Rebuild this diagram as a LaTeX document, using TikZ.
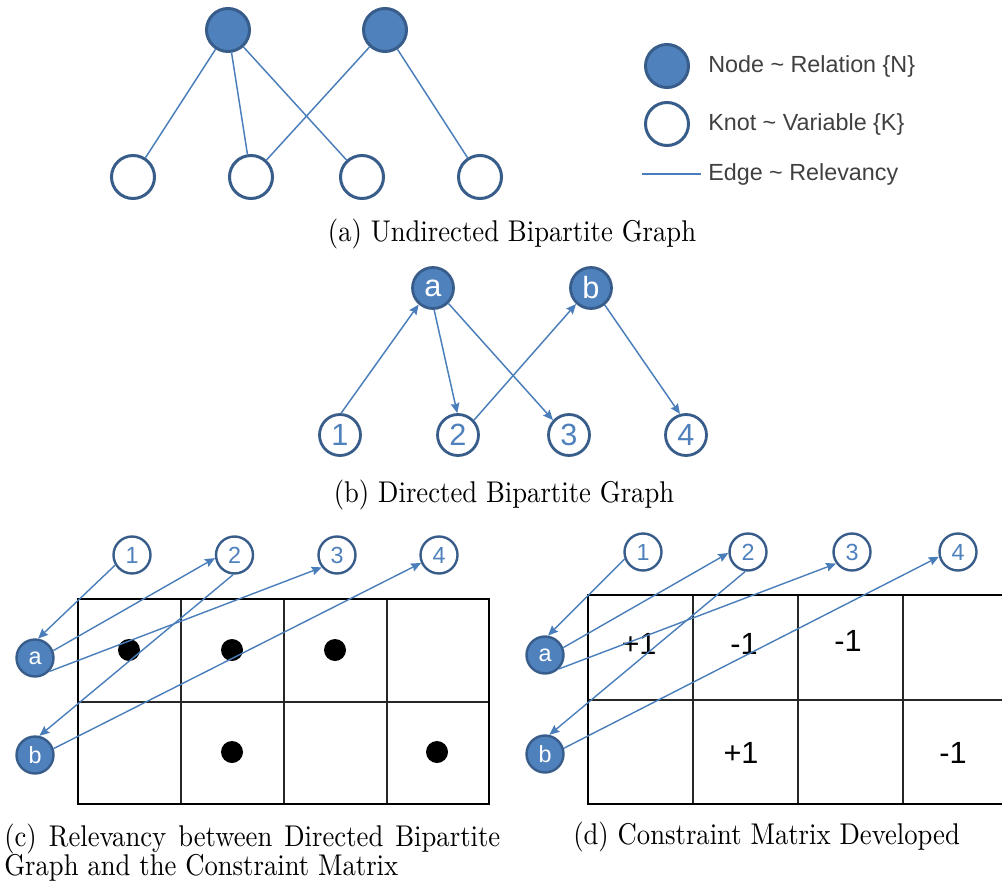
\documentclass[tikz,border=0pt]{standalone}
\usepackage{fontspec}
\newfontfamily\arialf{Liberation Sans}
\usepackage{graphicx}
\usetikzlibrary{arrows.meta}
\definecolor{nfill}{HTML}{4F81BD}
\definecolor{nline}{HTML}{385D8A}
\definecolor{eline}{HTML}{4A7EBB}
\definecolor{ltext}{HTML}{404040}
\newcommand{\capscale}[1]{\scalebox{2}[2.25]{#1}}
\begin{document}
\begin{tikzpicture}[x=0.75pt,y=-0.75pt,
  relA/.style={circle,fill=nfill,draw=nline,line width=2.25pt,minimum size=32.25pt,inner sep=0pt},
  knotA/.style={circle,fill=white,draw=nline,line width=2.25pt,minimum size=32.25pt,inner sep=0pt},
  relB/.style={circle,fill=nfill,draw=nline,line width=2.1pt,minimum size=30.75pt,inner sep=0pt,text=white,font=\arialf\fontsize{23}{23}\selectfont},
  knotB/.style={circle,fill=white,draw=nline,line width=2.1pt,minimum size=30.75pt,inner sep=0pt,text=nfill,font=\arialf\fontsize{23}{23}\selectfont},
  relC/.style={circle,fill=nfill,draw=nline,line width=1.8pt,minimum size=27.75pt,inner sep=0pt,text=white,font=\arialf\fontsize{17.5}{17.5}\selectfont},
  knotC/.style={circle,fill=white,draw=nline,line width=1.8pt,minimum size=27.75pt,inner sep=0pt,text=nfill,font=\arialf\fontsize{17.5}{17.5}\selectfont},
  relline/.style={draw=eline,line width=1.1pt},
  arr/.style={draw=eline,line width=1.1pt,-{Stealth[length=7.5pt,width=6.5pt,inset=1pt]}},
  arrc/.style={draw=eline,line width=1.05pt,-{Stealth[length=7.5pt,width=6.5pt,inset=1pt]}},
  legtext/.style={anchor=west,inner sep=0pt,text=ltext,font=\arialf\fontsize{17.5}{17.5}\selectfont},
  captext/.style={inner sep=0pt},
  dotc/.style={circle,fill=black,minimum size=16.5pt,inner sep=0pt},
  celltext/.style={inner sep=0pt,font=\arialf\fontsize{23}{23}\selectfont},
  gridin/.style={line width=0.9pt,draw=black!85},
  gridout/.style={line width=2.2pt,draw=black}]
\useasboundingbox (0,0) rectangle (1002,884);

% ---------- (a) ----------
\node[relA] (an1) at (228,30) {};
\node[relA] (an2) at (385,30) {};
\node[knotA] (ak1) at (133,177) {};
\node[knotA] (ak2) at (251,177) {};
\node[knotA] (ak3) at (362,177) {};
\node[knotA] (ak4) at (480,177) {};
\draw[relline] (an1) -- (ak1);
\draw[relline] (an1) -- (ak2);
\draw[relline] (an1) -- (ak3);
\draw[relline] (an2) -- (ak2);
\draw[relline] (an2) -- (ak4);

% legend
\node[relA] (lg1) at (667,66) {};
\node[knotA] (lg2) at (667,124) {};
\coordinate (le1) at (642,174);
\coordinate (le2) at (701,174);
\draw[relline] (le1) -- (le2);
\node[legtext] (lt1) at (708,66) {Node \textasciitilde{} Relation \{N\}};
\node[legtext] (lt2) at (708,124) {Knot \textasciitilde{} Variable \{K\}};
\node[legtext] (lt3) at (708,174) {Edge \textasciitilde{} Relevancy};

\node[captext,anchor=base] (capa) at (512,242) {\capscale{(a) Undirected Bipartite Graph}};

% ---------- (b) ----------
\node[relB] (ba) at (433,288) {a};
\node[relB] (bb) at (591,288) {b};
\node[knotB] (b1) at (340,435) {1};
\node[knotB] (b2) at (458,435) {2};
\node[knotB] (b3) at (569,435) {3};
\node[knotB] (b4) at (686,435) {4};
\draw[arr] (b1.87) -- (ba.229);
\draw[arr] (ba.273) -- (b2.92);
\draw[arr] (ba.315) -- (b3.137);
\draw[arr] (b2.43) -- (bb.227);
\draw[arr] (bb.309) -- (b4.106);

\node[captext,anchor=base] (capb) at (504,502) {\capscale{(b) Directed Bipartite Graph}};

% ---------- (c) ----------
\draw[gridin] (181,599) -- (181,804) (284,599) -- (284,804) (387,599) -- (387,804) (78,702) -- (489,702);
\draw[gridout] (78,599) rectangle (489,804);
\node[dotc] (c11) at (129,650) {};
\node[dotc] (c12) at (232,650) {};
\node[dotc] (c13) at (335,650) {};
\node[dotc] (c22) at (232,752) {};
\node[dotc] (c24) at (437,752) {};
\node[knotC] (c1) at (132,555) {1};
\node[knotC] (c2) at (234.5,555) {2};
\node[knotC] (c3) at (337,555) {3};
\node[knotC] (c4) at (439,555) {4};
\node[relC] (ca) at (35,658) {a};
\node[relC] (cb) at (35,755) {b};
\draw[arrc] (c1.211) -- (ca.81);
\draw[arrc] (ca.22) -- (c2.189);
\draw[arrc] (ca.317) -- (c3.219);
\draw[arrc] (c2.266) -- (cb.77);
\draw[arrc] (cb.19) -- (c4.204);

\node[captext,anchor=base west] (capc1) at (4,846) {\capscale{\makebox[186pt][s]{(c) Relevancy between Directed Bipartite}}};
\node[captext,anchor=base west] (capc2) at (4,875) {\capscale{Graph and the Constraint Matrix}};

% ---------- (d) ----------
\draw[gridin] (693,595) -- (693,804) (798,595) -- (798,804) (903,595) -- (903,804) (588,700) -- (1008,700);
\draw[gridout] (588,595) rectangle (1008,804);
\node[celltext] (t11) at (639,644) {+1};
\node[celltext] (t12) at (744,644) {-1};
\node[celltext] (t13) at (848,641) {-1};
\node[celltext] (t22) at (741,753) {+1};
\node[celltext] (t24) at (953,753) {-1};
\node[knotC] (d1) at (643,552) {1};
\node[knotC] (d2) at (748,552) {2};
\node[knotC] (d3) at (852,552) {3};
\node[knotC] (d4) at (958,552) {4};
\node[relC] (da) at (545,655) {a};
\node[relC] (db) at (545,754) {b};
\draw[arrc] (d1.201) -- (da.81);
\draw[arrc] (da.22) -- (d2.183);
\draw[arrc] (da.315) -- (d3.216);
\draw[arrc] (d2.262) -- (db.77);
\draw[arrc] (db.17) -- (d4.194);

\node[captext,anchor=base west] (capd) at (573,844) {\capscale{(d) Constraint Matrix Developed}};
\end{tikzpicture}
\end{document}
